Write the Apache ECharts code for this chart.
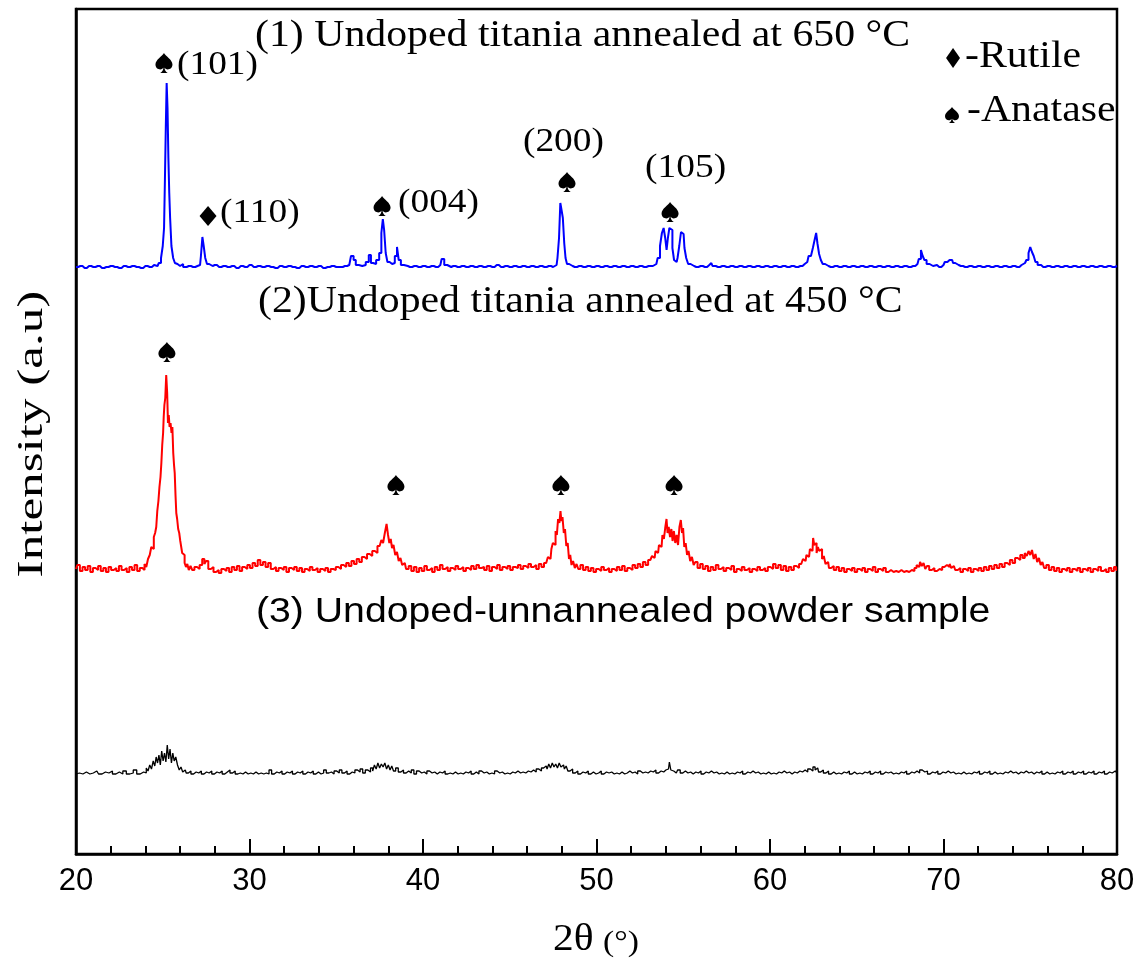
<!DOCTYPE html>
<html>
<head>
<meta charset="utf-8">
<title>XRD patterns of undoped titania</title>
<script src="https://cdn.jsdelivr.net/npm/echarts@6/dist/echarts.min.js"></script>
<style>
  html, body { margin: 0; padding: 0; background: #fff; }
  #chart { width: 1141px; height: 970px; }
</style>
</head>
<body>
<div id="chart"></div>
<script>
// 2θ (deg) vs intensity (a.u.), each pattern measured from its own baseline
const pattern650 = [
  [20.0,1],[20.25,2],[20.5,0],[20.75,2],[21.0,1],[21.25,2],[21.5,0],[21.75,1],[22.0,2],[22.25,1],[22.5,0],[22.75,2],
  [23.0,1],[23.25,2],[23.5,1],[23.75,0],[24.0,2],[24.25,1],[24.5,3],[24.7,2],[24.85,5],[24.95,10],[25.05,22],[25.1,40],
  [25.15,88],[25.2,140],[25.25,185],[25.3,160],[25.35,110],[25.4,75],[25.45,50],[25.55,22],[25.65,10],[25.75,5],[25.85,4],
  [26.0,2],[26.1,4],[26.25,1],[26.5,2],[26.75,1],[27.0,2],[27.15,3],[27.25,12],[27.32,31],[27.4,22],[27.5,10],[27.6,4],
  [27.75,2],[28.0,3],[28.25,1],[28.5,2],[28.75,1],[29.0,2],[29.25,0],[29.5,2],[29.75,1],[30.0,3],[30.25,1],[30.5,2],
  [30.75,1],[31.0,2],[31.25,1],[31.5,0],[31.75,2],[32.0,1],[32.25,2],[32.5,1],[32.75,0],[33.0,2],[33.25,1],[33.5,2],
  [33.75,1],[34.0,2],[34.25,0],[34.5,1],[34.75,2],[35.0,1],[35.25,1],[35.5,2],[35.75,3],[35.95,12],[36.05,8],[36.2,3],
  [36.4,2],[36.6,3],[36.8,6],[36.95,13],[37.05,5],[37.2,4],[37.4,8],[37.55,15],[37.65,35],[37.72,49],[37.8,38],[37.9,15],
  [38.0,6],[38.15,4],[38.3,5],[38.45,12],[38.55,21],[38.65,8],[38.8,3],[39.0,2],[39.25,1],[39.5,2],[39.75,1],[40.0,2],
  [40.25,1],[40.5,2],[40.75,1],[41.0,3],[41.15,9],[41.3,3],[41.5,1],[41.75,2],[42.0,1],[42.25,2],[42.5,1],[42.75,2],
  [43.0,1],[43.25,2],[43.5,1],[43.75,2],[44.0,1],[44.25,3],[44.5,1],[44.75,2],[45.0,1],[45.25,2],[45.5,1],[45.75,2],
  [46.0,1],[46.25,2],[46.5,1],[46.75,2],[47.0,1],[47.25,2],[47.5,1],[47.7,3],[47.8,10],[47.88,30],[47.95,65],[48.02,58],
  [48.1,50],[48.18,25],[48.25,10],[48.35,4],[48.5,2],[48.75,1],[49.0,2],[49.25,1],[49.5,2],[49.75,1],[50.0,2],[50.25,1],
  [50.5,2],[50.75,1],[51.0,2],[51.25,1],[51.5,2],[51.75,1],[52.0,2],[52.25,1],[52.5,2],[52.75,1],[53.0,2],[53.25,2],
  [53.45,4],[53.6,10],[53.72,22],[53.82,35],[53.92,40],[54.0,30],[54.08,18],[54.15,30],[54.25,40],[54.33,38],[54.42,20],
  [54.52,8],[54.62,6],[54.72,10],[54.82,22],[54.92,36],[55.02,34],[55.12,20],[55.22,10],[55.35,4],[55.5,2],[55.75,1],
  [56.0,2],[56.25,1],[56.5,3],[56.62,5],[56.75,2],[57.0,1],[57.25,2],[57.5,1],[57.75,2],[58.0,1],[58.25,2],[58.5,1],
  [58.75,2],[59.0,1],[59.25,2],[59.5,1],[59.75,2],[60.0,1],[60.25,2],[60.5,1],[60.75,2],[61.0,1],[61.25,2],[61.5,1],
  [61.75,2],[62.0,4],[62.15,6],[62.3,12],[62.42,10],[62.52,20],[62.62,28],[62.7,35],[62.78,24],[62.88,14],[62.98,8],
  [63.1,4],[63.25,2],[63.5,1],[63.75,2],[64.0,1],[64.25,2],[64.5,1],[64.75,2],[65.0,1],[65.25,2],[65.5,1],[65.75,2],
  [66.0,1],[66.25,2],[66.5,1],[66.75,2],[67.0,1],[67.25,2],[67.5,1],[67.75,2],[68.0,1],[68.25,2],[68.5,4],[68.65,9],
  [68.75,18],[68.85,12],[68.95,8],[69.1,4],[69.3,2],[69.5,3],[69.75,1],[70.0,3],[70.15,6],[70.3,8],[70.4,10],[70.5,8],
  [70.6,5],[70.75,3],[71.0,2],[71.25,1],[71.5,2],[71.75,1],[72.0,2],[72.25,1],[72.5,2],[72.75,1],[73.0,2],[73.25,1],
  [73.5,2],[73.75,1],[74.0,2],[74.25,1],[74.5,3],[74.7,5],[74.85,8],[74.95,15],[75.05,21],[75.15,16],[75.25,12],[75.35,6],
  [75.5,3],[75.75,1],[76.0,2],[76.25,1],[76.5,2],[76.75,1],[77.0,2],[77.25,1],[77.5,2],[77.75,1],[78.0,2],[78.25,1],
  [78.5,2],[78.75,1],[79.0,2],[79.25,1],[79.5,2],[79.75,1],[80.0,2]
];

const pattern450 = [
  [20.0,4],[20.15,8],[20.3,2],[20.45,6],[20.6,3],[20.75,7],[20.9,1],[21.05,5],[21.2,3],[21.35,7],[21.5,2],[21.65,5],
  [21.8,1],[21.95,6],[22.1,3],[22.25,5],[22.4,2],[22.55,7],[22.7,3],[22.85,5],[23.0,1],[23.15,6],[23.3,3],[23.45,8],
  [23.6,2],[23.75,5],[23.9,3],[24.0,9],[24.1,6],[24.2,14],[24.3,18],[24.38,26],[24.45,24],[24.52,36],[24.6,40],[24.65,46],
  [24.72,62],[24.78,72],[24.84,86],[24.9,96],[24.94,110],[25.0,128],[25.04,140],[25.07,156],[25.12,168],[25.17,175],
  [25.23,198],[25.28,180],[25.32,150],[25.37,158],[25.42,146],[25.48,150],[25.53,140],[25.58,146],[25.63,120],[25.67,108],
  [25.71,100],[25.76,78],[25.8,60],[25.86,54],[25.92,44],[25.98,40],[26.04,32],[26.09,30],[26.15,20],[26.22,18],[26.3,10],
  [26.38,6],[26.45,9],[26.55,3],[26.65,7],[26.75,3],[26.9,6],[27.05,4],[27.2,8],
  [27.35,14],[27.45,9],[27.55,12],[27.7,4],[27.85,6],[28.0,1],[28.15,3],[28.3,0],[28.45,4],[28.6,2],[28.75,5],[28.9,1],
  [29.05,6],[29.2,3],[29.35,7],[29.5,2],[29.65,6],[29.8,4],[29.95,8],[30.1,5],[30.25,10],[30.4,7],[30.55,13],[30.7,8],
  [30.85,11],[31.0,6],[31.15,10],[31.3,4],[31.45,6],[31.6,2],[31.75,5],[31.9,3],[32.05,6],[32.2,1],[32.35,5],[32.5,3],
  [32.65,6],[32.8,2],[32.95,5],[33.1,1],[33.25,4],[33.4,2],[33.55,6],[33.7,3],[33.85,5],[34.0,1],[34.15,4],[34.3,2],
  [34.45,5],[34.6,1],[34.75,4],[34.9,3],[35.05,6],[35.2,4],[35.35,8],[35.5,6],[35.65,10],[35.8,7],[35.95,12],[36.1,9],
  [36.25,14],[36.4,11],[36.55,16],[36.7,14],[36.85,19],[37.0,17],[37.15,22],[37.3,20],[37.45,27],[37.55,25],[37.65,33],
  [37.75,30],[37.85,40],[37.95,49],[38.02,38],[38.1,30],[38.18,34],[38.25,25],[38.35,28],[38.45,18],[38.55,21],[38.65,12],
  [38.75,15],[38.85,8],[38.95,10],[39.1,4],[39.25,7],[39.4,2],[39.55,6],[39.7,1],[39.85,5],[40.0,2],[40.15,7],[40.3,3],
  [40.45,5],[40.6,1],[40.75,6],[40.9,3],[41.05,8],[41.2,4],[41.35,6],[41.5,2],[41.65,5],[41.8,3],[41.95,7],[42.1,4],
  [42.25,6],[42.4,2],[42.55,5],[42.7,3],[42.85,7],[43.0,4],[43.15,8],[43.3,5],[43.45,6],[43.6,3],[43.75,7],[43.9,2],
  [44.05,6],[44.2,4],[44.35,8],[44.5,3],[44.65,6],[44.8,4],[44.95,7],[45.1,3],[45.25,6],[45.4,5],[45.55,8],[45.7,4],
  [45.85,7],[46.0,5],[46.15,9],[46.3,6],[46.45,8],[46.6,4],[46.75,9],[46.9,6],[47.05,10],[47.15,9],[47.25,16],[47.35,14],
  [47.45,24],[47.52,30],[47.6,28],[47.68,42],[47.75,38],[47.82,54],[47.9,50],[47.95,62],[48.0,52],[48.08,56],[48.15,40],
  [48.22,44],[48.3,27],[48.38,30],[48.45,14],[48.52,18],[48.6,8],[48.7,12],[48.8,5],[48.9,9],[49.0,4],[49.15,8],[49.3,3],
  [49.45,6],[49.6,2],[49.75,5],[49.9,1],[50.05,4],[50.2,2],[50.35,6],[50.5,3],[50.65,5],[50.8,1],[50.95,4],[51.1,2],
  [51.25,6],[51.4,3],[51.55,7],[51.7,2],[51.85,5],[52.0,3],[52.15,8],[52.3,5],[52.45,9],[52.6,6],[52.75,11],[52.9,8],
  [53.05,13],[53.15,12],[53.25,17],[53.35,15],[53.45,22],[53.55,20],[53.65,28],[53.75,26],[53.85,38],[53.92,34],[54.0,45],
  [54.07,54],[54.12,40],[54.2,46],[54.28,36],[54.35,44],[54.42,32],[54.5,42],[54.58,30],[54.66,38],[54.74,28],[54.82,46],
  [54.9,53],[54.96,40],[55.02,45],[55.1,26],[55.18,30],[55.26,18],[55.35,22],[55.45,12],[55.55,16],[55.65,8],[55.75,11],
  [55.9,5],[56.05,9],[56.2,4],[56.35,7],[56.5,2],[56.65,6],[56.8,3],[56.95,8],[57.1,4],[57.25,6],[57.4,2],[57.55,5],
  [57.7,3],[57.85,7],[58.0,1],[58.15,4],[58.3,2],[58.45,6],[58.6,3],[58.75,5],[58.9,1],[59.05,4],[59.2,2],[59.35,6],
  [59.5,3],[59.65,5],[59.8,2],[59.95,6],[60.1,4],[60.25,9],[60.4,5],[60.55,8],[60.7,3],[60.85,7],[61.0,2],[61.15,6],
  [61.3,3],[61.45,7],[61.6,5],[61.75,9],[61.85,8],[61.95,14],[62.05,12],[62.15,18],[62.25,16],[62.35,24],[62.45,22],
  [62.52,35],[62.58,28],[62.65,30],[62.72,20],[62.8,26],[62.88,22],[62.95,24],[63.05,14],[63.15,17],[63.25,9],[63.35,11],
  [63.45,5],[63.6,7],[63.75,3],[63.9,6],[64.05,2],[64.2,5],[64.35,1],[64.5,4],[64.65,2],[64.8,5],[64.95,1],[65.1,4],
  [65.25,2],[65.4,5],[65.55,1],[65.7,4],[65.85,2],[66.0,6],[66.15,1],[66.3,4],[66.45,2],[66.6,5],[66.75,1],[66.9,3],
  [67.05,1],[67.2,2],[67.35,1],[67.5,3],[67.65,1],[67.8,2],[67.95,1],[68.1,3],[68.25,2],[68.4,5],[68.5,8],[68.6,6],
  [68.7,11],[68.8,7],[68.9,10],[69.0,4],[69.1,7],[69.25,3],[69.4,5],[69.55,2],[69.7,4],[69.85,3],[70.0,6],[70.1,5],
  [70.2,8],[70.3,6],[70.4,9],[70.5,5],[70.6,7],[70.75,3],[70.9,5],[71.05,1],[71.2,4],[71.35,2],[71.5,5],[71.65,1],
  [71.8,4],[71.95,2],[72.1,5],[72.25,2],[72.4,6],[72.55,3],[72.7,7],[72.85,4],[73.0,8],[73.15,5],[73.3,9],[73.45,6],
  [73.6,10],[73.75,8],[73.9,13],[74.05,10],[74.2,15],[74.35,13],[74.5,18],[74.62,15],[74.75,20],[74.85,17],[74.95,22],
  [75.05,18],[75.15,23],[75.25,14],[75.35,19],[75.45,11],[75.55,15],[75.65,8],[75.75,11],[75.85,5],[76.0,8],[76.15,3],
  [76.3,6],[76.45,2],[76.6,5],[76.75,1],[76.9,4],[77.05,2],[77.2,5],[77.35,1],[77.5,4],[77.65,2],[77.8,5],[77.95,1],
  [78.1,4],[78.25,2],[78.4,5],[78.55,1],[78.7,4],[78.85,2],[79.0,6],[79.15,2],[79.3,4],[79.45,1],[79.6,5],[79.75,2],
  [79.9,6],[80.0,3]
];

const patternRaw = [
  [20.0,1],[20.2,2],[20.4,1],[20.6,3],[20.8,1],[21.0,2],[21.2,4],[21.4,1],[21.6,3],[21.8,2],[22.0,4],[22.2,1],[22.4,3],
  [22.6,1],[22.8,4],[23.0,1],[23.2,2],[23.4,5],[23.6,1],[23.8,3],[24.0,2],[24.1,7],[24.2,4],[24.3,10],[24.4,6],[24.5,14],
  [24.58,9],[24.66,18],[24.74,12],[24.82,20],[24.9,10],[24.98,24],[25.06,14],[25.14,22],[25.22,13],[25.3,30],[25.38,16],
  [25.46,26],[25.54,12],[25.62,22],[25.7,14],[25.8,18],[25.9,10],[26.0,5],[26.1,8],[26.2,3],[26.3,5],[26.4,2],[26.55,4],
  [26.7,1],[26.85,3],[27.0,2],[27.15,4],[27.3,1],[27.45,3],[27.6,2],[27.75,4],[27.9,1],[28.05,3],[28.2,2],[28.35,4],
  [28.5,1],[28.65,3],[28.8,5],[28.95,2],[29.1,4],[29.25,1],[29.4,2],[29.55,1],[29.7,3],[29.85,1],[30.0,2],[30.15,1],
  [30.3,3],[30.45,1],[30.6,2],[30.75,1],[30.9,2],[31.05,1],[31.2,5],[31.35,1],[31.5,3],[31.65,2],[31.8,4],[31.95,1],
  [32.1,3],[32.25,2],[32.4,4],[32.55,1],[32.7,3],[32.85,2],[33.0,4],[33.15,1],[33.3,3],[33.45,2],[33.6,4],[33.75,1],
  [33.9,3],[34.05,1],[34.2,2],[34.35,5],[34.5,2],[34.65,3],[34.8,1],[34.95,4],[35.1,2],[35.25,5],[35.4,2],[35.55,4],
  [35.7,1],[35.85,3],[36.0,2],[36.15,5],[36.3,3],[36.45,6],[36.6,2],[36.75,5],[36.9,3],[37.05,7],[37.15,4],[37.25,10],
  [37.35,6],[37.45,12],[37.55,7],[37.65,11],[37.75,8],[37.85,12],[37.95,6],[38.05,10],[38.15,5],[38.25,9],[38.35,4],
  [38.5,7],[38.65,3],[38.8,5],[38.95,2],[39.1,4],[39.25,2],[39.4,5],[39.55,1],[39.7,4],[39.85,2],[40.0,3],[40.15,1],
  [40.3,4],[40.45,2],[40.6,3],[40.75,1],[40.9,3],[41.05,2],[41.2,4],[41.35,1],[41.5,2],[41.65,1],[41.8,3],[41.95,1],
  [42.1,2],[42.25,1],[42.4,3],[42.55,2],[42.7,4],[42.85,1],[43.0,3],[43.15,1],[43.3,4],[43.45,2],[43.6,3],[43.75,1],
  [43.9,2],[44.05,1],[44.2,4],[44.35,2],[44.5,3],[44.65,1],[44.8,2],[44.95,1],[45.1,3],[45.25,2],[45.4,4],[45.55,2],
  [45.7,3],[45.85,2],[46.0,4],[46.15,3],[46.3,5],[46.45,3],[46.6,6],[46.75,4],[46.9,7],[47.0,5],[47.1,9],[47.2,6],
  [47.3,11],[47.4,7],[47.5,12],[47.6,8],[47.7,11],[47.8,7],[47.9,12],[48.0,8],[48.1,10],[48.2,6],[48.3,9],[48.4,4],
  [48.55,6],[48.7,2],[48.85,4],[49.0,1],[49.15,3],[49.3,2],[49.45,4],[49.6,1],[49.75,3],[49.9,1],[50.05,2],[50.2,4],
  [50.35,1],[50.5,3],[50.65,2],[50.8,3],[50.95,1],[51.1,2],[51.25,1],[51.4,3],[51.55,1],[51.7,2],[51.85,4],[52.0,2],
  [52.15,3],[52.3,1],[52.45,4],[52.6,2],[52.75,3],[52.9,2],[53.05,4],[53.2,3],[53.35,5],[53.5,2],[53.65,4],[53.8,3],
  [53.95,5],[54.05,3],[54.15,6],[54.25,13],[54.32,5],[54.45,4],[54.6,2],[54.75,5],[54.9,2],[55.05,4],[55.2,2],[55.35,3],
  [55.5,1],[55.65,3],[55.8,2],[55.95,4],[56.1,1],[56.25,3],[56.4,2],[56.55,4],[56.7,2],[56.85,3],[57.0,1],[57.15,2],
  [57.3,1],[57.45,3],[57.6,1],[57.75,2],[57.9,1],[58.05,3],[58.2,2],[58.35,4],[58.5,1],[58.65,3],[58.8,2],[58.95,4],
  [59.1,2],[59.25,3],[59.4,1],[59.55,2],[59.7,1],[59.85,3],[60.0,1],[60.15,2],[60.3,1],[60.45,3],[60.6,2],[60.75,4],
  [60.9,2],[61.05,3],[61.2,1],[61.35,3],[61.5,2],[61.65,4],[61.8,3],[61.95,5],[62.1,3],[62.25,6],[62.4,4],[62.55,8],
  [62.65,5],[62.75,7],[62.85,3],[63.0,5],[63.15,2],[63.3,4],[63.45,1],[63.6,3],[63.75,1],[63.9,2],[64.05,1],[64.2,3],
  [64.35,2],[64.5,4],[64.65,1],[64.8,3],[64.95,1],[65.1,2],[65.25,1],[65.4,3],[65.55,2],[65.7,4],[65.85,1],[66.0,3],
  [66.15,2],[66.3,4],[66.45,1],[66.6,3],[66.75,2],[66.9,3],[67.05,1],[67.2,2],[67.35,1],[67.5,3],[67.65,2],[67.8,4],
  [67.95,1],[68.1,3],[68.25,2],[68.4,4],[68.55,2],[68.7,5],[68.85,3],[69.0,4],[69.15,1],[69.3,3],[69.45,2],[69.6,4],
  [69.75,1],[69.9,3],[70.05,2],[70.2,4],[70.35,2],[70.5,3],[70.65,1],[70.8,2],[70.95,1],[71.1,3],[71.25,1],[71.4,2],
  [71.55,1],[71.7,3],[71.85,2],[72.0,4],[72.15,1],[72.3,3],[72.45,2],[72.6,4],[72.75,1],[72.9,3],[73.05,1],[73.2,2],
  [73.35,1],[73.5,3],[73.65,2],[73.8,4],[73.95,2],[74.1,3],[74.25,1],[74.4,3],[74.55,2],[74.7,4],[74.85,2],[75.0,3],
  [75.15,1],[75.3,3],[75.45,2],[75.6,4],[75.75,1],[75.9,3],[76.05,1],[76.2,2],[76.35,1],[76.5,3],[76.65,2],[76.8,4],
  [76.95,1],[77.1,3],[77.25,2],[77.4,4],[77.55,1],[77.7,3],[77.85,2],[78.0,4],[78.15,1],[78.3,3],[78.45,2],[78.6,4],
  [78.75,1],[78.9,3],[79.05,2],[79.2,4],[79.35,1],[79.5,3],[79.65,2],[79.8,4],[80.0,2]
];

// vertical stacking offsets of the three patterns (a.u.)
const offset650 = 586;
const offset450 = 281;
const offsetRaw = 79;

// phase markers: [2θ, stacked intensity]
const anataseMarks = [[25.07, 791], [37.64, 648], [48.30, 672], [54.24, 642],
                      [25.24, 502], [38.44, 369], [47.95, 369], [54.47, 369]];
const rutileMarks = [[27.61, 638]];
// key symbols next to the phase names
const keyRutile = [[70.55, 796]];
const keyAnatase = [[70.49, 739]];

// Miller indices: [2θ, stacked intensity, text]
const millerLabels = [
  [25.82, 789, '(101)'],
  [28.30, 641, '(110)'],
  [38.56, 651, '(004)'],
  [45.76, 712, '(200)'],
  [52.80, 686, '(105)']
];

const xTicks = [20, 30, 40, 50, 60, 70, 80];

const curveTitles = [
  '(1) Undoped titania annealed at 650 \u00B0C',
  '(2)Undoped titania annealed at 450 \u00B0C',
  '(3) Undoped-unnannealed powder sample'
];
const phaseNames = ['-Rutile', '-Anatase'];

const SERIF = '"Liberation Serif", "Times New Roman", serif';
const SANS = '"Liberation Sans", Arial, sans-serif';
const SPADE = 'path://M50 0C40 18 0 38 0 66C0 84 14 94 28 94C37 94 44 89 47 83C46 96 40 108 28 114L72 114C60 108 54 96 53 83C56 89 63 94 72 94C86 94 100 84 100 66C100 38 60 18 50 0Z';

function lift(pattern, offset) {
  return pattern.map(p => [p[0], p[1] + offset]);
}

function traceSeries(data, color, width) {
  return { type: 'line', data: data, step: 'middle', showSymbol: false, silent: true, lineStyle: { color: color, width: width }, z: 3 };
}

function markSeries(data, symbol, size) {
  return { type: 'scatter', data: data, symbol: symbol, symbolSize: size, itemStyle: { color: '#000', opacity: 1 }, z: 4, silent: true };
}

function serifText(text, x, y, size, sx, extra) {
  return Object.assign({
    type: 'text', x: x, y: y, scaleX: sx, silent: true,
    style: { text: text, font: size + 'px ' + SERIF, fill: '#000', textAlign: 'left', textVerticalAlign: 'middle' }
  }, extra || {});
}

const chart = echarts.init(document.getElementById('chart'), null, { renderer: 'canvas' });

const option = {
  animation: false,
  backgroundColor: '#fff',
  grid: { left: 76, right: 24, top: 9, bottom: 116, show: true, borderColor: '#000', borderWidth: 2.5, backgroundColor: 'transparent' },
  xAxis: {
    type: 'value', min: xTicks[0], max: xTicks[xTicks.length - 1], interval: 10,
    axisLine: { show: true, onZero: false, lineStyle: { color: '#000', width: 2.5 } },
    axisTick: { show: true, inside: true, length: 15, lineStyle: { color: '#000', width: 2 } },
    minorTick: { show: true, splitNumber: 5, length: 8, lineStyle: { color: '#000', width: 2 } },
    splitLine: { show: false },
    axisLabel: { color: '#000', fontFamily: SANS, fontSize: 31, margin: 12 }
  },
  yAxis: {
    type: 'value', min: 0, max: 845,
    axisLine: { show: true, lineStyle: { color: '#000', width: 2.5 } },
    axisTick: { show: false }, axisLabel: { show: false }, splitLine: { show: false }
  },
  series: [
    traceSeries(lift(pattern650, offset650), '#0000ff', 2),
    traceSeries(lift(pattern450, offset450), '#ff0000', 2),
    traceSeries(lift(patternRaw, offsetRaw), '#000000', 1.3),
    markSeries(anataseMarks, SPADE, [17, 20]),
    markSeries(rutileMarks, 'diamond', [17, 20]),
    markSeries(keyRutile, 'diamond', [14, 20]),
    markSeries(keyAnatase, SPADE, [14, 16]),
    {
      type: 'custom', z: 5, silent: true,
      data: millerLabels.map(m => [m[0], m[1]]),
      renderItem: function (params, api) {
        const p = api.coord([api.value(0), api.value(1)]);
        return {
          type: 'text', x: p[0], y: p[1], scaleX: 1.1,
          style: { text: millerLabels[params.dataIndex][2], font: '34px ' + SERIF, fill: '#000', textAlign: 'left', textVerticalAlign: 'middle' }
        };
      }
    }
  ],
  graphic: [
    serifText(curveTitles[0], 255, 36, 38, 1.1),
    serifText(curveTitles[1], 258, 302, 38, 1.1),
    {
      type: 'text', x: 256, y: 612, scaleX: 1.12, silent: true,
      style: { text: curveTitles[2], font: '35px ' + SANS, fill: '#000', textAlign: 'left', textVerticalAlign: 'middle' }
    },
    serifText(phaseNames[0], 965, 57, 38, 1.1),
    serifText(phaseNames[1], 967, 111, 38, 1.1),
    {
      type: 'text', x: 33, y: 434, rotation: Math.PI / 2, scaleX: 1.42, silent: true,
      style: { text: 'Intensity (a.u)', font: '36px ' + SERIF, fill: '#000', textAlign: 'center', textVerticalAlign: 'middle' }
    },
    serifText('2\u03B8', 553, 940, 37, 1.12),
    serifText('(\u00B0)', 603, 943, 30, 1.12)
  ]
};

chart.setOption(option);
</script>
</body>
</html>
